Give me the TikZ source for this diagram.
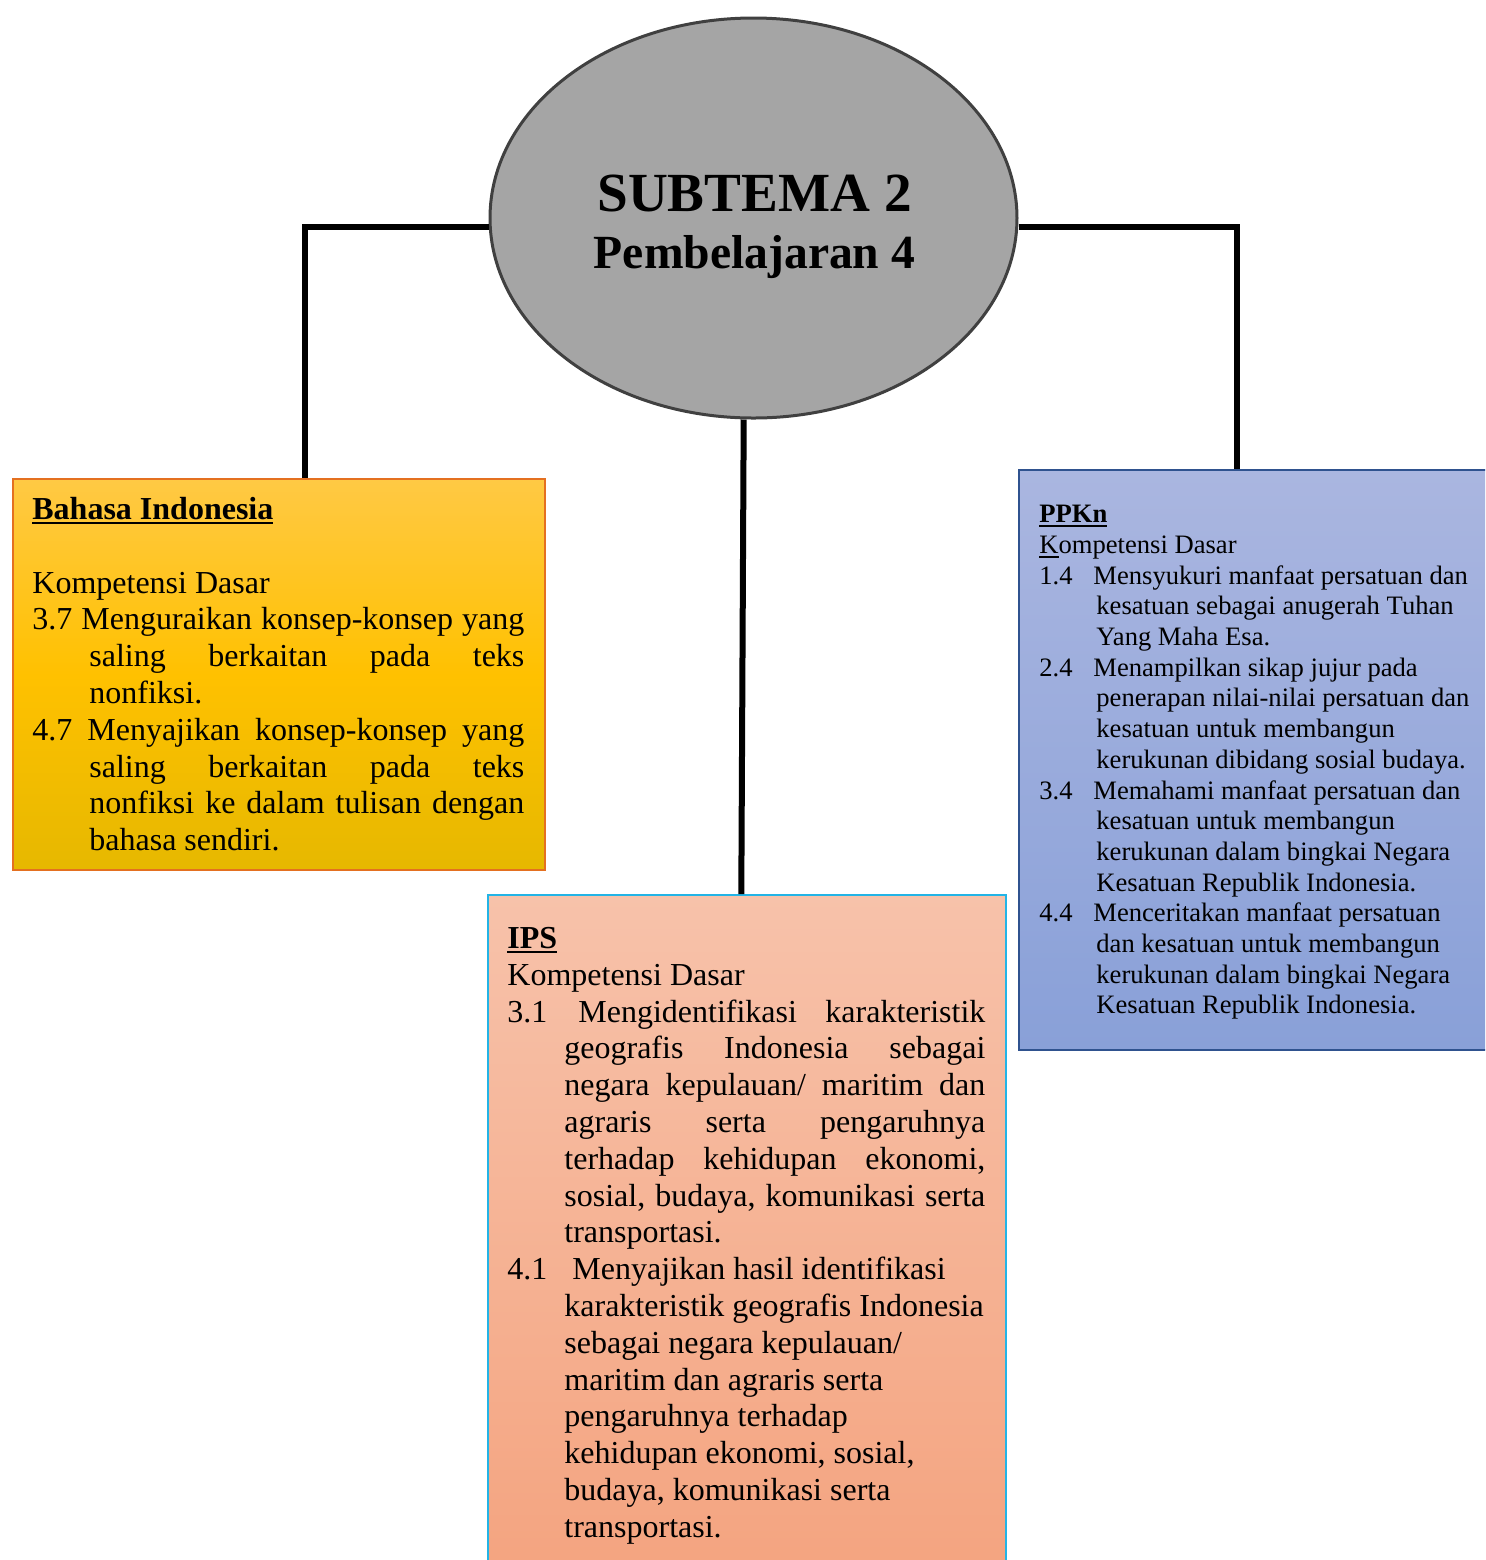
\documentclass[tikz,border=0pt]{standalone}
\usepackage{fontspec}
\setmainfont{Liberation Serif}
\usetikzlibrary{shapes.geometric}
\newsavebox{\myulbox}
\newcommand{\uln}[1]{\leavevmode\sbox{\myulbox}{#1}\rlap{\rule[-2.2pt]{\wd\myulbox}{1.1pt}}\usebox{\myulbox}}
\newcommand{\jb}[2]{\leavevmode\hbox to #1{#2}}
\definecolor{ellfill}{RGB}{165,165,165}
\definecolor{ellline}{RGB}{64,64,64}
\definecolor{bitop}{RGB}{255,201,68}
\definecolor{bimid}{RGB}{255,193,0}
\definecolor{bibot}{RGB}{230,184,0}
\definecolor{biline}{RGB}{228,112,32}
\definecolor{pptop}{RGB}{170,182,224}
\definecolor{ppbot}{RGB}{137,160,216}
\definecolor{ppline}{RGB}{47,82,143}
\definecolor{iptop}{RGB}{247,194,170}
\definecolor{ipbot}{RGB}{244,164,128}
\definecolor{ipline}{RGB}{35,180,230}
\newcommand{\ind}{\hspace*{28.5pt}}
\begin{document}
\begin{tikzpicture}[x=0.5pt,y=-0.5pt,
  conn/.style={line width=3pt,black},
  boxbase/.style={rectangle,inner sep=0pt,anchor=north west,line width=1pt},
  bigtext/.style={anchor=base west,inner sep=0pt,align=flush left,font=\fontsize{16}{18.4}\selectfont},
  smalltext/.style={anchor=base west,inner sep=0pt,align=flush left,font=\fontsize{13.3}{15.35}\selectfont}]
\useasboundingbox (0,0) rectangle (1485,1560);
\clip (0,0) rectangle (1485,1560);
\fill[white] (0,0) rectangle (1485,1560);
% boxes
\node[boxbase,draw=biline,top color=bitop,bottom color=bibot,middle color=bimid,
  minimum width=266pt,minimum height=195.5pt] (bahasa) at (12,478) {};
\node[boxbase,draw=ppline,top color=pptop,bottom color=ppbot,
  minimum width=238.5pt,minimum height=290pt] (ppkn) at (1018,468.5) {};
\node[boxbase,draw=ipline,top color=iptop,bottom color=ipbot,
  minimum width=259pt,minimum height=338pt] (ips) at (487,894) {};
% ellipse
\node[ellipse,draw=ellline,line width=1.5pt,fill=ellfill,inner sep=0pt,
  minimum width=263.5pt,minimum height=200pt] (center) at (753.5,218) {};
\node[anchor=base,inner sep=0pt,font=\fontsize{27.6}{30}\selectfont\bfseries] (t1) at (754.5,211) {SUBTEMA 2};
\node[anchor=base,inner sep=0pt,font=\fontsize{23.8}{26}\selectfont\bfseries] (t2) at (754.5,268) {Pembelajaran 4};
% connectors
\draw[conn] ([yshift=-4.5pt]center.west) -| ([xshift=13pt]bahasa.north);
\draw[conn] ([yshift=-4.5pt]center.east) -| ([xshift=-10.25pt]ppkn.north);
\draw[conn] ([xshift=-4.9pt]center.south) -- ([xshift=-2.85pt]ips.north);
% texts
\node[bigtext,text width=252pt] (bitext) at (32,519.5) {\noindent\textbf{\uln{Bahasa Indonesia}}\\
\mbox{}\\
Kompetensi Dasar\\
\jb{246pt}{3.7 \hfill Menguraikan \hfill konsep-konsep \hfill yang}\\
\ind\jb{217.5pt}{saling \hfill berkaitan \hfill pada \hfill teks}\\
\ind nonfiksi.\\
\jb{246pt}{4.7 \hfill Menyajikan \hfill konsep-konsep \hfill yang}\\
\ind\jb{217.5pt}{saling \hfill berkaitan \hfill pada \hfill teks}\\
\ind\jb{217.5pt}{nonfiksi \hfill ke \hfill dalam \hfill tulisan \hfill dengan}\\
\ind bahasa sendiri.};
\node[smalltext,text width=228pt] (pptext) at (1039,522.7) {\noindent\textbf{\uln{PPKn}}\\
\uln{K}ompetensi Dasar\\
\makebox[27pt][l]{1.4}Mensyukuri manfaat persatuan dan\\
\ind kesatuan sebagai anugerah Tuhan\\
\ind Yang Maha Esa.\\
\makebox[27pt][l]{2.4}Menampilkan sikap jujur pada\\
\ind penerapan nilai-nilai persatuan dan\\
\ind kesatuan untuk membangun\\
\ind kerukunan dibidang sosial budaya.\\
\makebox[27pt][l]{3.4}Memahami manfaat persatuan dan\\
\ind kesatuan untuk membangun\\
\ind kerukunan dalam bingkai Negara\\
\ind Kesatuan Republik Indonesia.\\
\makebox[27pt][l]{4.4}Menceritakan manfaat persatuan\\
\ind dan kesatuan untuk membangun\\
\ind kerukunan dalam bingkai Negara\\
\ind Kesatuan Republik Indonesia.};
\node[bigtext,text width=245pt] (iptext) at (507,948.5) {\noindent\textbf{\uln{IPS}}\\
Kompetensi Dasar\\
\makebox[35.5pt][l]{3.1}\jb{203.5pt}{Mengidentifikasi \hfill karakteristik}\\
\ind\jb{210.5pt}{geografis \hfill Indonesia \hfill sebagai}\\
\ind\jb{210.5pt}{negara \hfill kepulauan/ \hfill maritim \hfill dan}\\
\ind\jb{210.5pt}{agraris \hfill serta \hfill pengaruhnya}\\
\ind\jb{210.5pt}{terhadap \hfill kehidupan \hfill ekonomi,}\\
\ind\jb{210.5pt}{sosial, \hfill budaya, \hfill komunikasi \hfill serta}\\
\ind transportasi.\\
\makebox[32.5pt][l]{4.1}Menyajikan hasil identifikasi\\
\ind karakteristik geografis Indonesia\\
\ind sebagai negara kepulauan/\\
\ind maritim dan agraris serta\\
\ind pengaruhnya terhadap\\
\ind kehidupan ekonomi, sosial,\\
\ind budaya, komunikasi serta\\
\ind transportasi.};
\end{tikzpicture}
\end{document}
